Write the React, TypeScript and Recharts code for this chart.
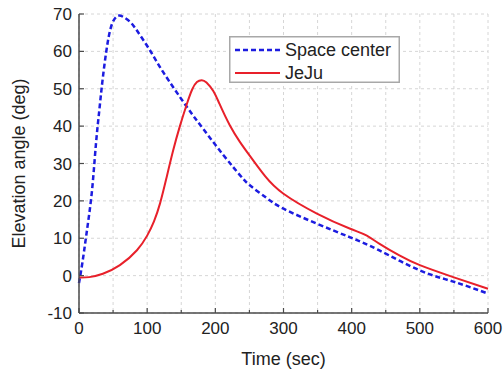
import { LineChart, Line, XAxis, YAxis, CartesianGrid, Legend } from 'recharts';

// Space center track
const spaceTime = [0, 5, 10, 15, 20, 25, 30, 35, 42, 49, 57, 66, 76, 86, 104, 124, 158, 182, 212, 236, 251, 275, 300, 349, 397, 440, 500, 549, 600];
const spaceElev = [-2, 3.5, 9.9, 16.5, 24.5, 35.5, 44.6, 53, 62.3, 67.6, 69.5, 69.1, 67.7, 65.3, 60.3, 54.3, 45.2, 39.3, 32.2, 26.9, 24.1, 20.8, 17.9, 13.9, 10.3, 6.8, 1.4, -1.6, -4.8];

// JeJu track
const jejuTime = [0, 15, 35, 60, 85, 100, 110, 119, 128, 138, 148, 158, 166, 173, 180, 187, 197, 206, 221, 236, 250, 273, 300, 349, 397, 420, 441, 470, 500, 549, 600];
const jejuElev = [-0.5, -0.4, 0.5, 2.8, 6.8, 10.7, 14.5, 19.4, 25.9, 33.4, 40, 45.8, 49.8, 51.8, 52.3, 51.7, 49.4, 46, 40.3, 35.8, 32.2, 26.6, 21.9, 16.6, 12.6, 10.9, 8.5, 5.4, 2.8, -0.4, -3.5];

const xTicks = [0, 50, 100, 150, 200, 250, 300, 350, 400, 450, 500, 550, 600];
const yTicks = [-10, -5, 0, 5, 10, 15, 20, 25, 30, 35, 40, 45, 50, 55, 60, 65, 70];

const spaceData = spaceTime.map((t, i) => ({ t, v: spaceElev[i] }));
const jejuData = jejuTime.map((t, i) => ({ t, v: jejuElev[i] }));

const FONT = '"Liberation Sans", Arial, sans-serif';
const AXIS = '#4a4a4a';
const BLUE = '#1c1ce0';
const RED = '#e8202a';

const BottomTick = ({ x, y, payload }: any) => {
  const major = payload.value % 100 === 0;
  return (
    <g>
      <line x1={x} x2={x} y1={y} y2={y - (major ? 5 : 3)} stroke={AXIS} strokeWidth={1.2} />
      {major && (
        <text x={x} y={y + 21} textAnchor="middle" fontSize={17} fontFamily={FONT} fill="#222">
          {payload.value}
        </text>
      )}
    </g>
  );
};

const TopTick = ({ x, y, payload }: any) => {
  const major = payload.value % 100 === 0;
  return <line x1={x} x2={x} y1={y} y2={y + (major ? 5 : 3)} stroke={AXIS} strokeWidth={1.2} />;
};

const LeftTick = ({ x, y, payload }: any) => {
  const major = payload.value % 10 === 0;
  return (
    <g>
      <line x1={x} x2={x + (major ? 5 : 3)} y1={y} y2={y} stroke={AXIS} strokeWidth={1.2} />
      {major && (
        <text x={x - 7} y={y + 6} textAnchor="end" fontSize={17} fontFamily={FONT} fill="#222">
          {payload.value}
        </text>
      )}
    </g>
  );
};

const RightTick = ({ x, y, payload }: any) => {
  const major = payload.value % 10 === 0;
  return <line x1={x} x2={x - (major ? 5 : 3)} y1={y} y2={y} stroke={AXIS} strokeWidth={1.2} />;
};

const LegendBox = () => (
  <svg width={171} height={47} style={{ display: 'block' }}>
    <rect x={0.75} y={0.75} width={169.5} height={45.5} fill="#fff" stroke="#a8a8a8" strokeWidth={1.5} />
    <line x1={6} x2={51} y1={14} y2={14} stroke={BLUE} strokeWidth={2.5} strokeDasharray="5 3" />
    <text x={56} y={20} fontSize={18} fontFamily={FONT} fill="#222">Space center</text>
    <line x1={6} x2={51} y1={37} y2={37} stroke={RED} strokeWidth={2} />
    <text x={56} y={43} fontSize={18} fontFamily={FONT} fill="#222">JeJu</text>
  </svg>
);

export default function App() {
  return (
    <div style={{ position: 'absolute', left: 0, top: 0, background: '#fff' }}>
      <LineChart width={503} height={372} margin={{ top: 14, right: 15, left: 0, bottom: 0 }}>
        <CartesianGrid stroke="#d6d6d6" strokeDasharray="3 3" />
        <XAxis
          dataKey="t"
          type="number"
          domain={[0, 600]}
          ticks={xTicks}
          height={59}
          tickSize={0}
          tickMargin={0}
          tickLine={false}
          tick={BottomTick}
          axisLine={{ stroke: AXIS, strokeWidth: 1.5 }}
          label={{ value: 'Time (sec)', position: 'center', dy: 16, fontSize: 18, fontFamily: FONT, fill: '#222' }}
        />
        <XAxis
          xAxisId="top"
          orientation="top"
          type="number"
          domain={[0, 600]}
          ticks={xTicks}
          height={0}
          tickSize={0}
          tickMargin={0}
          tickLine={false}
          tick={TopTick}
          axisLine={{ stroke: AXIS, strokeWidth: 1.5 }}
        />
        <YAxis
          type="number"
          domain={[-10, 70]}
          ticks={yTicks}
          width={79}
          tickSize={0}
          tickMargin={0}
          tickLine={false}
          tick={LeftTick}
          axisLine={{ stroke: AXIS, strokeWidth: 1.5 }}
          label={{ value: 'Elevation angle (deg)', angle: -90, position: 'center', dx: -21, fontSize: 18, fontFamily: FONT, fill: '#222' }}
        />
        <YAxis
          yAxisId="right"
          orientation="right"
          type="number"
          domain={[-10, 70]}
          ticks={yTicks}
          width={0}
          tickSize={0}
          tickMargin={0}
          tickLine={false}
          tick={RightTick}
          axisLine={{ stroke: AXIS, strokeWidth: 1.5 }}
        />
        <Legend
          layout="vertical"
          align="center"
          verticalAlign="middle"
          content={LegendBox}
          wrapperStyle={{ position: 'absolute', left: 229, top: 36, width: 171, height: 47 }}
        />
        <Line
          data={spaceData}
          dataKey="v"
          type="natural"
          stroke={BLUE}
          strokeWidth={2.5}
          strokeDasharray="5 3"
          dot={false}
          isAnimationActive={false}
        />
        <Line
          data={jejuData}
          dataKey="v"
          type="natural"
          stroke={RED}
          strokeWidth={2}
          dot={false}
          isAnimationActive={false}
        />
      </LineChart>
    </div>
  );
}
